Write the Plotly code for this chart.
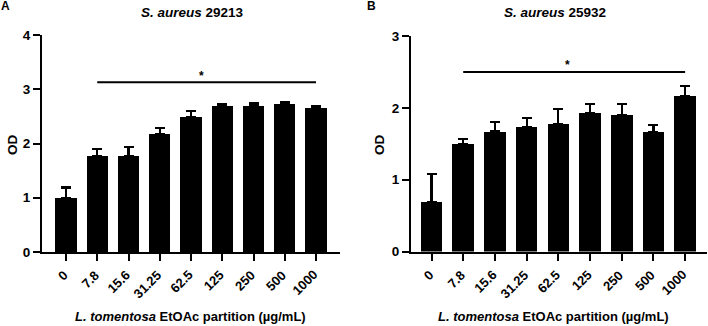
import plotly.graph_objects as go

categories = ["0", "7.8", "15.6", "31.25", "62.5", "125", "250", "500", "1000"]

# Panel A: S. aureus 29213
a_mean = [1.00, 1.77, 1.77, 2.18, 2.49, 2.69, 2.70, 2.72, 2.65]
a_err = [0.19, 0.13, 0.17, 0.11, 0.11, 0.03, 0.04, 0.04, 0.04]

# Panel B: S. aureus 25932
b_mean = [0.69, 1.49, 1.67, 1.73, 1.77, 1.93, 1.90, 1.66, 2.17]
b_err = [0.39, 0.08, 0.13, 0.13, 0.21, 0.12, 0.15, 0.10, 0.13]

titles = ["<b><i>S. aureus</i> 29213</b>", "<b><i>S. aureus</i> 25932</b>"]
xtitle = "<b><i>L. tomentosa</i> EtOAc partition (µg/mL)</b>"
ytitle = "<b>OD</b>"
a_ticks = [0, 1, 2, 3, 4]
b_ticks = [0, 1, 2, 3]
a_sig = 3.13
b_sig = 2.50

W, H = 708, 326
FONT = "Liberation Sans, Arial, sans-serif"

def px(x):
    return x / W

def py(y):
    return 1 - y / H

fig = go.Figure()

for mean, err, xa, ya in [(a_mean, a_err, "x", "y"), (b_mean, b_err, "x2", "y2")]:
    fig.add_trace(go.Bar(
        x=categories, y=mean, width=0.68,
        marker=dict(color="black", line=dict(width=0)),
        error_y=dict(type="data", symmetric=False, array=err,
                     arrayminus=[0] * len(err), thickness=2.2, width=5,
                     color="black"),
        xaxis=xa, yaxis=ya, showlegend=False,
    ))

axis_common = dict(showline=True, linewidth=2, linecolor="black",
                   ticks="outside", ticklen=7, tickwidth=2, tickcolor="black",
                   showgrid=False, zeroline=False, automargin=False,
                   tickfont=dict(family=FONT, size=13.5, color="black", weight="bold"))

fig.update_layout(
    width=W, height=H, autosize=False,
    margin=dict(l=0, r=0, t=0, b=0, pad=0, autoexpand=False),
    plot_bgcolor="white", paper_bgcolor="white",
    bargap=0,
    xaxis=dict(domain=[px(42), px(340)], anchor="y", type="category",
               range=[-0.768, 8.768], tickmode="array", tickvals=categories,
               showticklabels=False, **axis_common),
    yaxis=dict(domain=[1 - 252 / H, 1 - 35 / H], anchor="x",
               range=[0, 4], tickvals=a_ticks, **axis_common),
    xaxis2=dict(domain=[px(411), px(707)], anchor="y2", type="category",
                range=[-0.647, 8.69], tickmode="array", tickvals=categories,
                showticklabels=False, **axis_common),
    yaxis2=dict(domain=[1 - 251.5 / H, 1 - 36 / H], anchor="x2",
                range=[0, 3], tickvals=b_ticks, **axis_common),
)

# significance lines
fig.add_shape(type="line", xref="x", yref="y", x0=1, x1=8, y0=a_sig, y1=a_sig,
              line=dict(color="black", width=2))
fig.add_shape(type="line", xref="x2", yref="y2", x0=1, x1=8, y0=b_sig, y1=b_sig,
              line=dict(color="black", width=2))

ann = []
ann.append(dict(text="<b>*</b>", xref="x", yref="y", x=4.35, y=3.24,
                showarrow=False, font=dict(family=FONT, size=12, color="black")))
ann.append(dict(text="<b>*</b>", xref="x2", yref="y2", x=4.3, y=2.60,
                showarrow=False, font=dict(family=FONT, size=12, color="black")))

# rotated x tick labels (45 degrees, right end at the tick)
for xr in ["x", "x2"]:
    for i, c in enumerate(categories):
        ann.append(dict(text="<b>" + c + "</b>", xref=xr, yref="paper", x=i, y=py(266),
                        xanchor="right", yanchor="top", xshift=6, textangle=-45,
                        showarrow=False, borderpad=0,
                        font=dict(family=FONT, size=13, color="black")))

# titles
for t, x in [(titles[0], 192), (titles[1], 555)]:
    ann.append(dict(text=t, xref="paper", yref="paper", x=px(x), y=py(12),
                    showarrow=False, xanchor="center", yanchor="middle",
                    font=dict(family=FONT, size=13.5, color="black")))
# x titles
for x in [190.5, 553.5]:
    ann.append(dict(text=xtitle, xref="paper", yref="paper", x=px(x), y=py(316),
                    showarrow=False, xanchor="center", yanchor="middle",
                    font=dict(family=FONT, size=13, color="black")))
# y titles
for x in [12, 379]:
    ann.append(dict(text=ytitle, xref="paper", yref="paper", x=px(x), y=py(145),
                    showarrow=False, textangle=-90, xanchor="center", yanchor="middle",
                    font=dict(family=FONT, size=13.5, color="black")))
# panel letters
for t, x in [("<b>A</b>", 5), ("<b>B</b>", 371)]:
    ann.append(dict(text=t, xref="paper", yref="paper", x=px(x), y=py(6),
                    showarrow=False, xanchor="center", yanchor="middle",
                    font=dict(family=FONT, size=12, color="black")))

fig.update_layout(annotations=ann)

fig.write_html(
    "out.html",
    config={"displayModeBar": False},
    post_script="document.body.style.margin='0';document.documentElement.style.overflow='hidden';",
)
